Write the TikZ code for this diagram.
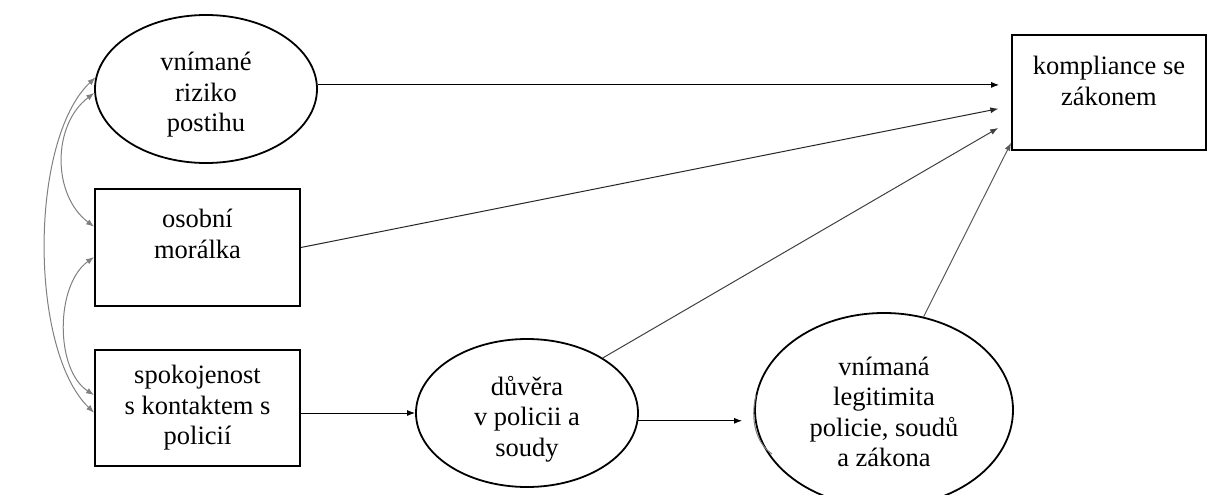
\documentclass[tikz,border=0pt]{standalone}
\usepackage{fontspec}
\setmainfont{Liberation Serif}
\usetikzlibrary{shapes.geometric,arrows.meta,calc}
\begin{document}
\begin{tikzpicture}[x=1pt,y=-1pt,
  every node/.style={font=\fontsize{26.5}{30.5}\selectfont, align=center, inner sep=0pt},
  oval/.style={draw, ellipse, line width=1.8pt},
  boxnode/.style={draw, rectangle, line width=1.8pt},
  arr/.style={-{Latex[length=8pt,width=6pt]}, line width=1pt},
  garr/.style={{Latex[length=8pt,width=6pt]}-{Latex[length=8pt,width=6pt]}, line width=1pt, draw=gray, fill=none}]
\useasboundingbox (0,0) rectangle (1207,495);

\node[oval, minimum width=222pt, minimum height=148pt, label={[yshift=-6pt]center:vnímané\\riziko\\postihu}] (risk) at (206,89) {};
\node[boxnode, minimum width=205pt, minimum height=117pt, label={[yshift=13.5pt]center:osobní\\morálka}] (moral) at (197.5,247.5) {};
\node[boxnode, minimum width=205pt, minimum height=116pt] (spok) at (197.5,408) {spokojenost\\s kontaktem s\\policií};
\node[boxnode, minimum width=194pt, minimum height=115pt, label={[yshift=11.5pt]center:kompliance se\\zákonem}] (comp) at (1109,92.5) {};
\node[oval, minimum width=222pt, minimum height=148pt, label={[yshift=-6pt]center:důvěra\\v policii a\\soudy}] (trust) at (527,413) {};
\node[oval, minimum width=258pt, minimum height=194pt, label={[yshift=-2pt]center:vnímaná\\legitimita\\policie, soudů\\a zákona}] (legit) at (884,410) {};

% small gray double-line artefact at the left of the legitimacy ellipse
\draw[gray, line width=1pt] (756,395) .. controls (750,420) and (756,443) .. (772,454);

\coordinate (t1) at ($(comp.north west)!0.435!(comp.south west)$);
\coordinate (t2) at ($(comp.north west)!0.617!(comp.south west)$);
\coordinate (t3) at ($(comp.north west)!0.739!(comp.south west)$);
\coordinate (t4) at ($(comp.north west)!0.93!(comp.south west)$);

\draw[arr, shorten >=12pt] (risk.east |- t1) -- (t1);
\draw[arr, draw=black!85, shorten >=13pt] (moral.east) -- (t2);
\draw[arr, draw=black!75, shorten >=15pt] (trust.36) -- (t3);
\draw[arr, draw=black!65] (legit.67) -- (t4);
\draw[arr] (spok.east |- trust.west) -- (trust.west);
\draw[arr, shorten >=12pt] (trust.-4) -- (trust.-4 -| legit.west);

\coordinate (m1) at ($(moral.north west)!0.325!(moral.south west)$);
\coordinate (m2) at ($(moral.north west)!0.58!(moral.south west)$);
\coordinate (s1) at ($(spok.north west)!0.39!(spok.south west)$);
\coordinate (s2) at ($(spok.north west)!0.54!(spok.south west)$);

\draw[garr] (risk.174) .. controls (29,140) and (29,350) .. (s2);
\draw[garr] (risk.182) .. controls (52,125) and (52,195) .. (m1);
\draw[garr] (m2) .. controls (55,285) and (55,370) .. (s1);
\end{tikzpicture}
\end{document}
